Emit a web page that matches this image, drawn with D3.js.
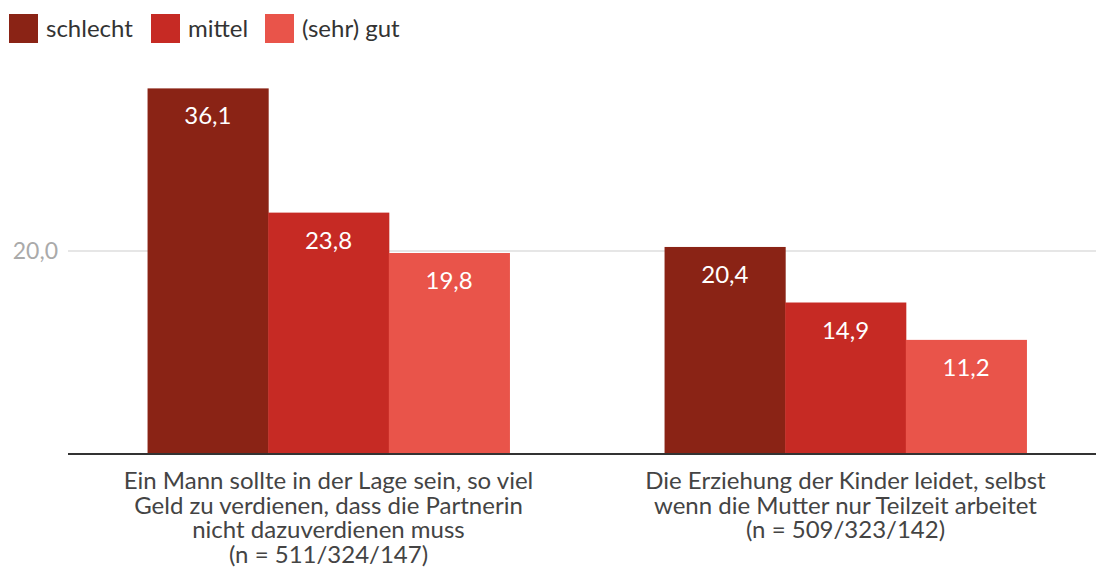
<!DOCTYPE html>
<html>
<head>
<meta charset="utf-8">
<script src="https://cdn.jsdelivr.net/npm/d3@7"></script>
<style>
  body { margin: 0; background: #fff; }
  text { font-family: Lato, "Open Sans", sans-serif; }
</style>
</head>
<body>
<div id="chart"></div>
<script>
var width = 1096, height = 579;

var series = ["schlecht", "mittel", "(sehr) gut"];
var colors = ["#8a2315", "#c62a24", "#e9544a"];
var categories = ["Ein Mann sollte in der Lage sein, so viel|Geld zu verdienen, dass die Partnerin|nicht dazuverdienen muss|(n = 511/324/147)",
                  "Die Erziehung der Kinder leidet, selbst|wenn die Mutter nur Teilzeit arbeitet|(n = 509/323/142)"];
var schlecht = [36.1, 20.4];
var mittel = [23.8, 14.9];
var gut = [19.8, 11.2];
var yTicks = [20];

var values = [schlecht, mittel, gut];
var fmt = function(v) { return d3.format(".1f")(v).replace(".", ","); };

var svg = d3.select("#chart").append("svg")
  .attr("width", width)
  .attr("height", height);

var x = d3.scaleBand().domain(d3.range(categories.length)).range([70, 1104]).padding(0);
var x1 = d3.scaleBand().domain(d3.range(series.length))
  .range([0, x.bandwidth() * 0.7]);
var y = d3.scaleLinear().domain([0, 40]).range([453, 49]);

// gridline + tick label
svg.selectAll(".grid").data(yTicks).enter().append("line")
  .attr("x1", 68).attr("x2", width)
  .attr("y1", function(d) { return y(d); }).attr("y2", function(d) { return y(d); })
  .attr("stroke", "#e6e6e6").attr("stroke-width", 2);
svg.selectAll(".tick").data(yTicks).enter().append("text")
  .attr("x", 58).attr("y", function(d) { return y(d); })
  .attr("dy", "0.35em").attr("text-anchor", "end")
  .attr("font-size", 23).attr("fill", "#aaa")
  .text(fmt);

// bars
var groups = svg.selectAll(".grp").data(categories).enter().append("g")
  .attr("transform", function(d, i) {
    return "translate(" + (x(i) + x.bandwidth() * 0.15) + ",0)";
  });

series.forEach(function(s, si) {
  groups.append("rect")
    .attr("x", x1(si))
    .attr("width", x1.bandwidth() + 0.5)
    .attr("y", function(d, i) { return y(values[si][i]); })
    .attr("height", function(d, i) { return y(0) - y(values[si][i]); })
    .attr("fill", colors[si]);
  groups.append("text")
    .attr("x", x1(si) + x1.bandwidth() / 2)
    .attr("y", function(d, i) { return y(values[si][i]) + 36; })
    .attr("text-anchor", "middle")
    .attr("font-size", 24).attr("fill", "#fff")
    .text(function(d, i) { return fmt(values[si][i]); });
});

// baseline
svg.append("line")
  .attr("x1", 68).attr("x2", width)
  .attr("y1", y(0) + 1).attr("y2", y(0) + 1)
  .attr("stroke", "#333").attr("stroke-width", 2);

// category labels
categories.forEach(function(c, i) {
  var t = svg.append("text")
    .attr("text-anchor", "middle")
    .attr("font-size", 24).attr("fill", "#444");
  c.split("|").forEach(function(line, li) {
    t.append("tspan")
      .attr("x", x(i) + x.bandwidth() / 2)
      .attr("y", 489 + li * 24.5)
      .text(line);
  });
});

// legend
var legX = [9, 151, 265];
var leg = svg.selectAll(".leg").data(series).enter().append("g")
  .attr("transform", function(d, i) { return "translate(" + legX[i] + ",14)"; });
leg.append("rect").attr("width", 29).attr("height", 29)
  .attr("fill", function(d, i) { return colors[i]; });
leg.append("text").attr("x", 37).attr("y", 15).attr("dy", "0.35em")
  .attr("font-size", 24).attr("fill", "#333")
  .text(function(d) { return d; });
</script>
</body>
</html>
